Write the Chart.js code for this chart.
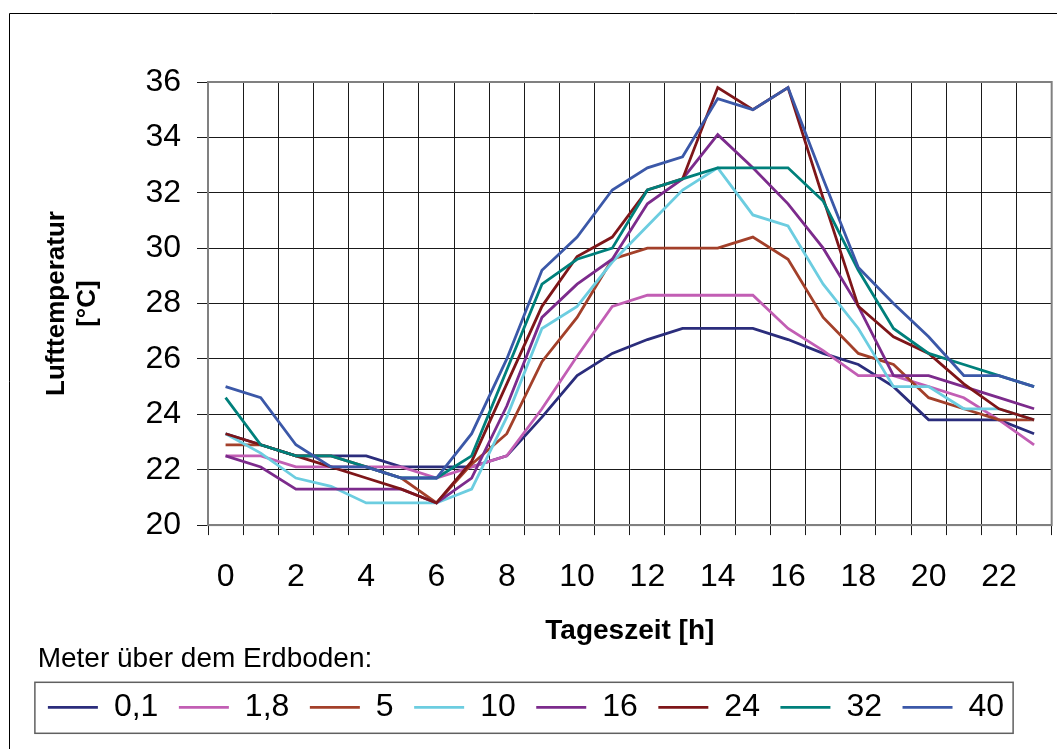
<!DOCTYPE html>
<html>
<head>
<meta charset="utf-8">
<script src="https://cdn.jsdelivr.net/npm/chart.js@4/dist/chart.umd.min.js"></script>
<style>
  html, body { margin: 0; padding: 0; background: #fff; }
  canvas { display: block; }
</style>
</head>
<body>
<canvas id="myCanvas" width="1057" height="749"></canvas>
<script>
// Tageszeit in Stunden
const hours = [0, 1, 2, 3, 4, 5, 6, 7, 8, 9, 10, 11, 12, 13, 14, 15, 16, 17, 18, 19, 20, 21, 22, 23];

// Lufttemperatur [°C] je Höhe über dem Erdboden
const m01 = [23.3, 22.9, 22.5, 22.5, 22.5, 22.1, 22.1, 22.1, 22.5, 23.9, 25.4, 26.2, 26.7, 27.1, 27.1, 27.1, 26.7, 26.2, 25.8, 25.0, 23.8, 23.8, 23.8, 23.3];
const m18 = [22.5, 22.5, 22.1, 22.1, 22.1, 22.1, 21.7, 22.1, 22.5, 24.2, 26.1, 27.9, 28.3, 28.3, 28.3, 28.3, 27.1, 26.3, 25.4, 25.4, 25.0, 24.6, 23.8, 22.9];
const m5 = [22.9, 22.9, 22.5, 22.5, 22.1, 21.7, 20.8, 22.2, 23.3, 25.9, 27.5, 29.6, 30.0, 30.0, 30.0, 30.4, 29.6, 27.5, 26.2, 25.8, 24.6, 24.2, 23.8, 23.8];
const m10 = [23.3, 22.6, 21.7, 21.4, 20.8, 20.8, 20.8, 21.3, 23.9, 27.1, 27.9, 29.5, 30.8, 32.1, 32.9, 31.2, 30.8, 28.7, 27.1, 25.0, 25.0, 24.2, 24.2, 23.8];
const m16 = [22.5, 22.1, 21.3, 21.3, 21.3, 21.3, 20.8, 21.7, 24.3, 27.5, 28.7, 29.6, 31.6, 32.5, 34.1, 32.9, 31.6, 30.0, 27.9, 25.4, 25.4, 25.0, 24.6, 24.2];
const m24 = [23.3, 22.9, 22.5, 22.1, 21.7, 21.3, 20.8, 22.3, 25.1, 27.9, 29.7, 30.4, 32.1, 32.5, 35.8, 35.0, 35.8, 31.8, 27.9, 26.8, 26.2, 25.1, 24.2, 23.8];
const m32 = [24.6, 22.9, 22.5, 22.5, 22.1, 21.7, 21.7, 22.5, 25.6, 28.7, 29.6, 30.0, 32.1, 32.5, 32.9, 32.9, 32.9, 31.7, 29.2, 27.1, 26.2, 25.8, 25.4, 25.0];
const m40 = [25.0, 24.6, 22.9, 22.1, 22.1, 21.7, 21.7, 23.3, 26.0, 29.2, 30.4, 32.1, 32.9, 33.3, 35.4, 35.0, 35.8, 32.5, 29.3, 28.0, 26.8, 25.4, 25.4, 25.0];

const heights = ["0,1", "1,8", "5", "10", "16", "24", "32", "40"];
const series = [m01, m18, m5, m10, m16, m24, m32, m40];
const colors = ["#2b2d7c", "#c25eb4", "#a3402a", "#6ccde0", "#7c2b8c", "#7e1619", "#00807b", "#3b58a8"];

const FONT = "'Liberation Sans', Arial, sans-serif";
Chart.defaults.color = "#000";
Chart.defaults.font.family = FONT;

// Rahmen: Diagrammfläche, Zeichenfläche und Legendenkasten
const framePlugin = {
    id: "frames",
    beforeDraw(chart) {
        const ctx = chart.ctx;
        ctx.save();
        ctx.fillStyle = "#fff";
        ctx.fillRect(0, 0, chart.width, chart.height);
        ctx.strokeStyle = "#000";
        ctx.lineWidth = 1;
        ctx.beginPath();
        ctx.moveTo(9.5, chart.height);
        ctx.lineTo(9.5, 13.5);
        ctx.lineTo(chart.width, 13.5);
        ctx.stroke();
        ctx.restore();
    },
    beforeDatasetsDraw(chart) {
        const a = chart.chartArea;
        const ctx = chart.ctx;
        ctx.save();
        ctx.strokeStyle = "#808080";
        ctx.lineWidth = 2;
        ctx.strokeRect(a.left, a.top, a.right - a.left, a.bottom - a.top);
        ctx.restore();
    },
    afterDraw(chart) {
        const boxes = chart.legend.legendHitBoxes;
        if (!boxes || !boxes.length) return;
        const first = boxes[0];
        const last = boxes[boxes.length - 1];
        const cy = first.top + first.height / 2;
        const left = first.left - 13;
        const right = last.left + last.width + 9;
        const ctx = chart.ctx;
        ctx.save();
        ctx.strokeStyle = "#606060";
        ctx.lineWidth = 1.5;
        ctx.strokeRect(left, cy - 25, right - left, 51);
        ctx.restore();
    },
};

const datasets = series.map((values, i) => ({
    label: heights[i],
    data: values,
    borderColor: colors[i],
    backgroundColor: colors[i],
    borderWidth: 2.8,
    pointRadius: 0,
    tension: 0,
    fill: false,
    order: series.length - i,
}));

const ctx = document.getElementById("myCanvas").getContext("2d");

const chart = new Chart(ctx, {
    type: "line",
    data: {
        labels: hours,
        datasets: datasets,
    },
    plugins: [framePlugin],
    options: {
        responsive: false,
        animation: false,
        devicePixelRatio: 1,
        layout: {
            padding: { left: 0, right: 5, top: 82, bottom: 15.7 },
        },
        plugins: {
            tooltip: { enabled: false },
            legend: {
                position: "bottom",
                align: "center",
                labels: {
                    usePointStyle: true,
                    pointStyle: "line",
                    pointStyleWidth: 50,
                    padding: 20.5,
                    color: "#000",
                    font: { size: 32, family: FONT },
                    sort: (a, b) => a.datasetIndex - b.datasetIndex,
                },
                title: {
                    display: true,
                    text: "Meter über dem Erdboden:",
                    position: "start",
                    color: "#000",
                    padding: 0,
                    font: { size: 28, family: FONT, lineHeight: 0.9 },
                },
            },
        },
        scales: {
            x: {
                type: "category",
                offset: true,
                afterFit: (scale) => { scale.height = 120.5; },
                grid: {
                    offset: true,
                    color: "#1a1a1a",
                    lineWidth: 1,
                    drawTicks: true,
                    tickLength: 10,
                },
                border: { display: true, color: "#808080", width: 2 },
                ticks: {
                    autoSkip: false,
                    maxRotation: 0,
                    padding: 22.8,
                    font: { size: 32, family: FONT },
                    color: "#000",
                    callback: function (value, index) {
                        return index % 2 === 0 ? this.getLabelForValue(value) : "";
                    },
                },
                title: {
                    display: true,
                    text: "Tageszeit [h]",
                    color: "#000",
                    padding: 0,
                    font: { size: 28, weight: "bold", family: FONT, lineHeight: 1 },
                },
            },
            y: {
                min: 20,
                max: 36,
                afterFit: (scale) => { scale.width = 208; },
                grid: {
                    color: "#1a1a1a",
                    lineWidth: 1,
                    drawTicks: true,
                    tickLength: 11,
                },
                border: { display: true, color: "#808080", width: 2 },
                ticks: {
                    stepSize: 2,
                    padding: 16,
                    font: { size: 32, family: FONT },
                    color: "#000",
                },
                title: {
                    display: true,
                    text: ["Lufttemperatur", "[°C]"],
                    color: "#000",
                    padding: { top: 41.4, bottom: 0 },
                    font: { size: 26, weight: "bold", family: FONT, lineHeight: 1.2 },
                },
            },
        },
    },
});
</script>
</body>
</html>
